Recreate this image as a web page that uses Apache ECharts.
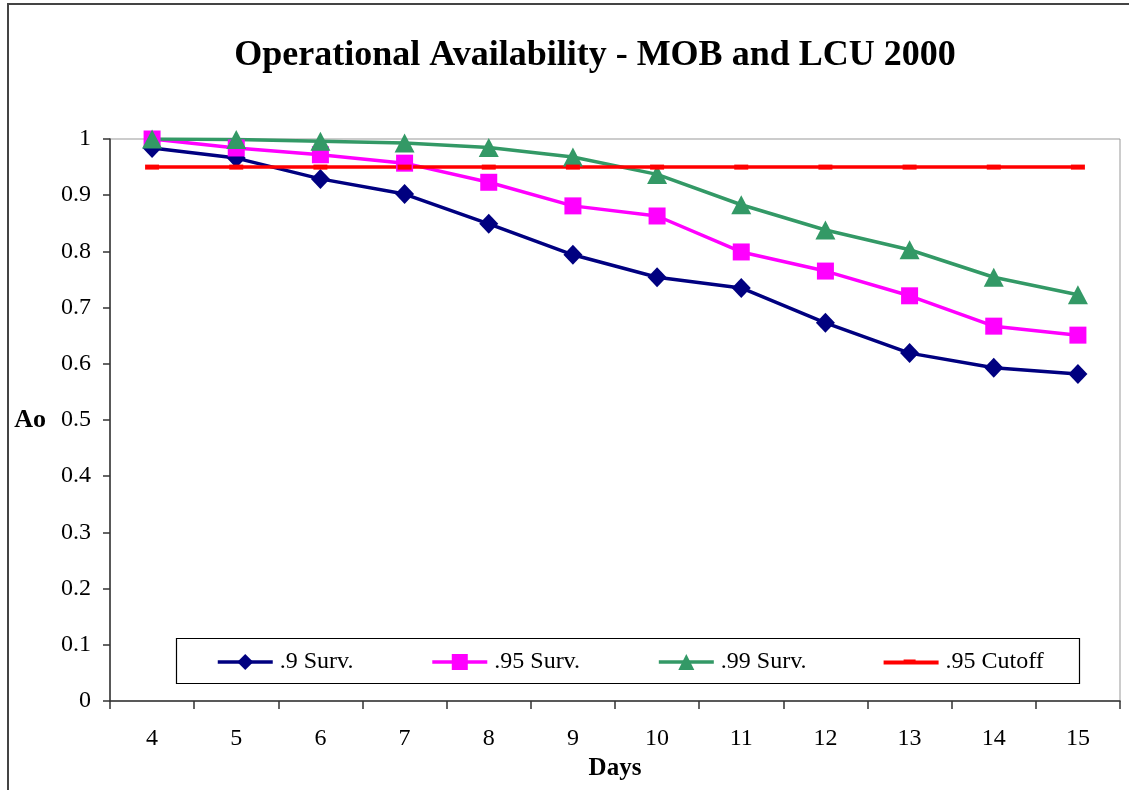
<!DOCTYPE html>
<html>
<head>
<meta charset="utf-8">
<script src="https://cdn.jsdelivr.net/npm/echarts@6/dist/echarts.min.js"></script>
<style>
html,body{margin:0;padding:0;background:#fff;}
#chart{width:1129px;height:790px;}
</style>
</head>
<body>
<div id="chart"></div>
<script>
const days = ['4','5','6','7','8','9','10','11','12','13','14','15'];
const surv90 = [0.984,0.966,0.929,0.902,0.849,0.794,0.754,0.735,0.673,0.619,0.593,0.582];
const surv95 = [1.000,0.984,0.972,0.957,0.923,0.881,0.863,0.799,0.765,0.721,0.667,0.651];
const surv99 = [1.000,0.999,0.996,0.993,0.985,0.968,0.937,0.883,0.838,0.803,0.754,0.723];
const cutoff95 = [0.95,0.95,0.95,0.95,0.95,0.95,0.95,0.95,0.95,0.95,0.95,0.95];
const seriesNames = ['.9 Surv.','.95 Surv.','.99 Surv.','.95 Cutoff'];
const yTickLabels = ['0','0.1','0.2','0.3','0.4','0.5','0.6','0.7','0.8','0.9','1'];

const FONT = '"Liberation Serif", "Times New Roman", serif';
const chart = echarts.init(document.getElementById('chart'), null, {renderer:'canvas'});

chart.setOption({
  backgroundColor:'#fff',
  animation:false,
  title:{
    text:'Operational Availability - MOB and LCU 2000',
    left:590, top:33, textAlign:'center',
    textStyle:{fontFamily:FONT, fontWeight:'bold', fontSize:36, color:'#000'}
  },
  grid:{left:110, top:139, right:9, bottom:89, show:true, borderColor:'#999', borderWidth:1,
        backgroundColor:'transparent', containLabel:false, outerBoundsMode:'none'},
  legend:{
    data:[
      seriesNames[0], seriesNames[1], seriesNames[2],
      {name:seriesNames[3], icon:'path://M0,10 L20,10 L20,9 L32,9 L32,10 L55,10 L55,14 L0,14 Z'}
    ],
    left:216, top:650, padding:0,
    itemWidth:55, itemHeight:20, itemGap:77,
    symbolKeepAspect:true,
    lineStyle:{width:3.5},
    textStyle:{fontFamily:FONT, fontSize:24, color:'#000', padding:[0,0,0,2]}
  },
  xAxis:{
    type:'category', data:days, boundaryGap:true,
    name:'Days', nameLocation:'middle', nameGap:55,
    nameTextStyle:{fontFamily:FONT, fontWeight:'bold', fontSize:25, color:'#000'},
    axisLine:{lineStyle:{color:'#333', width:1.5}},
    axisTick:{show:true, length:8, lineStyle:{color:'#333', width:1.5}},
    axisLabel:{margin:26, fontFamily:FONT, fontSize:24, color:'#000'},
    splitLine:{show:false}
  },
  yAxis:{
    type:'value', min:0, max:1, interval:0.1,
    name:'Ao', nameLocation:'middle', nameGap:64, nameRotate:0,
    nameTextStyle:{fontFamily:FONT, fontWeight:'bold', fontSize:26, color:'#000'},
    axisLine:{show:true, lineStyle:{color:'#333', width:1.5}},
    axisTick:{show:true, length:7, lineStyle:{color:'#333', width:1.5}},
    axisLabel:{margin:19, fontFamily:FONT, fontSize:24, color:'#000',
      formatter:function(v){ return yTickLabels[Math.round(v*10)]; }},
    splitLine:{show:false}
  },
  graphic:[{
    type:'rect', silent:true, z:-10,
    shape:{x:8, y:4, width:1200, height:900},
    style:{fill:'none', stroke:'#444', lineWidth:2}
  },{
    type:'rect', silent:true, z:-5,
    shape:{x:176.5, y:638.5, width:903, height:45},
    style:{fill:'#fff', stroke:'#000', lineWidth:1.2}
  }],
  series:[
    {name:seriesNames[0], type:'line', data:surv90, symbol:'diamond', symbolSize:[19,20],
     itemStyle:{color:'#000080'}, lineStyle:{color:'#000080', width:3.5}},
    {name:seriesNames[1], type:'line', data:surv95, symbol:'rect', symbolSize:17,
     itemStyle:{color:'#FF00FF'}, lineStyle:{color:'#FF00FF', width:3.5}},
    {name:seriesNames[2], type:'line', data:surv99, symbol:'triangle', symbolSize:[20,19],
     itemStyle:{color:'#339966'}, lineStyle:{color:'#339966', width:3.5}},
    {name:seriesNames[3], type:'line', data:cutoff95, symbol:'rect', symbolSize:[14,5],
     itemStyle:{color:'#FF0000'}, lineStyle:{color:'#FF0000', width:3.5}}
  ]
});
</script>
</body>
</html>
